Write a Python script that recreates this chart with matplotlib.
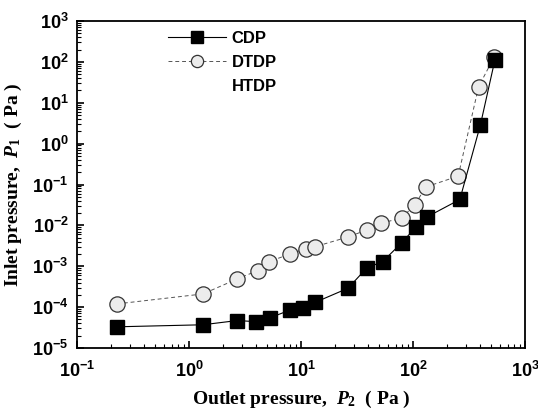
import matplotlib
matplotlib.use("Agg")
import matplotlib.pyplot as plt
from matplotlib.ticker import LogLocator, NullFormatter

plt.rcParams['mathtext.fontset'] = 'custom'
plt.rcParams['mathtext.it'] = 'Liberation Serif:italic:bold'
plt.rcParams['mathtext.rm'] = 'Liberation Serif:bold'

cdp_x = [0.228, 1.33, 2.7, 4.0, 5.3, 8.0, 10.4, 13.3, 26.3, 38.7, 53.5, 79, 106, 133, 262, 400, 538]
cdp_y = [3.3e-5, 3.7e-5, 4.7e-5, 4.4e-5, 5.5e-5, 8.5e-5, 9.5e-5, 1.3e-4, 2.9e-4, 9.1e-4,
         1.3e-3, 3.7e-3, 9.1e-3, 0.016, 0.043, 2.9, 110]
dtdp_x = [0.228, 1.33, 2.7, 4.1, 5.2, 8.0, 11.0, 13.3, 26.3, 39, 52, 79, 104, 130, 253, 385, 530]
dtdp_y = [1.2e-4, 2.1e-4, 4.9e-4, 7.8e-4, 1.3e-3, 2.0e-3, 2.7e-3, 3.0e-3, 5.2e-3, 7.8e-3,
          0.0114, 0.015, 0.032, 0.087, 0.16, 24.5, 132]
htdp_x = []
htdp_y = []

fig = plt.figure(figsize=(5.38, 4.09), dpi=100)
ax = fig.add_axes([77/538, 1-348/409, (525-77)/538, (348-21)/409])

ax.plot(dtdp_x, dtdp_y, linestyle=(0, (4, 3)), color='#555555', linewidth=0.7,
        marker='o', markersize=11, markerfacecolor='#ececec', markeredgecolor='#333333',
        markeredgewidth=0.9, label='DTDP', zorder=3)
ax.plot(cdp_x, cdp_y, linestyle='-', color='black', linewidth=0.8,
        marker='s', markersize=10, markerfacecolor='black', markeredgecolor='black',
        label='CDP', zorder=4)
ax.plot(htdp_x, htdp_y, linestyle='none', label='HTDP')

ax.set_xscale('log')
ax.set_yscale('log')
ax.set_xlim(0.1, 1000)
ax.set_ylim(1e-5, 1e3)

ax.xaxis.set_major_locator(LogLocator(base=10, numticks=20))
ax.yaxis.set_major_locator(LogLocator(base=10, numticks=20))
ax.xaxis.set_minor_locator(LogLocator(base=10, subs=range(2, 10), numticks=50))
ax.yaxis.set_minor_locator(LogLocator(base=10, subs=range(2, 10), numticks=50))
ax.xaxis.set_minor_formatter(NullFormatter())
ax.yaxis.set_minor_formatter(NullFormatter())

ax.tick_params(which='major', direction='in', length=5, width=1.2,
               top=False, right=False, labelsize=13, pad=6)
ax.tick_params(axis='x', which='major', pad=9)
ax.tick_params(which='minor', direction='in', length=3, width=0.8, top=False, right=False)
for lab in ax.get_xticklabels() + ax.get_yticklabels():
    lab.set_fontfamily('Liberation Sans')
    lab.set_fontweight('bold')
for s in ax.spines.values():
    s.set_linewidth(1.3)

ax.set_xlabel(r'Outlet pressure,  $P_2$  ( Pa )', fontsize=14, fontweight='bold',
              family='Liberation Serif', labelpad=6)
ax.set_ylabel(r'Inlet pressure,  $P_1$  ( Pa )', fontsize=14, fontweight='bold',
              family='Liberation Serif', labelpad=6)

h, l = ax.get_legend_handles_labels()
order = [1, 0, 2]
leg = ax.legend([h[i] for i in order], [l[i] for i in order], loc='upper left',
                bbox_to_anchor=(0.17, 1.015), frameon=False, handlelength=3.5,
                prop={'family': 'Liberation Sans', 'weight': 'bold', 'size': 12},
                labelspacing=0.55, handletextpad=0.3, markerscale=0.8)

fig.savefig('out.png', dpi=100)
